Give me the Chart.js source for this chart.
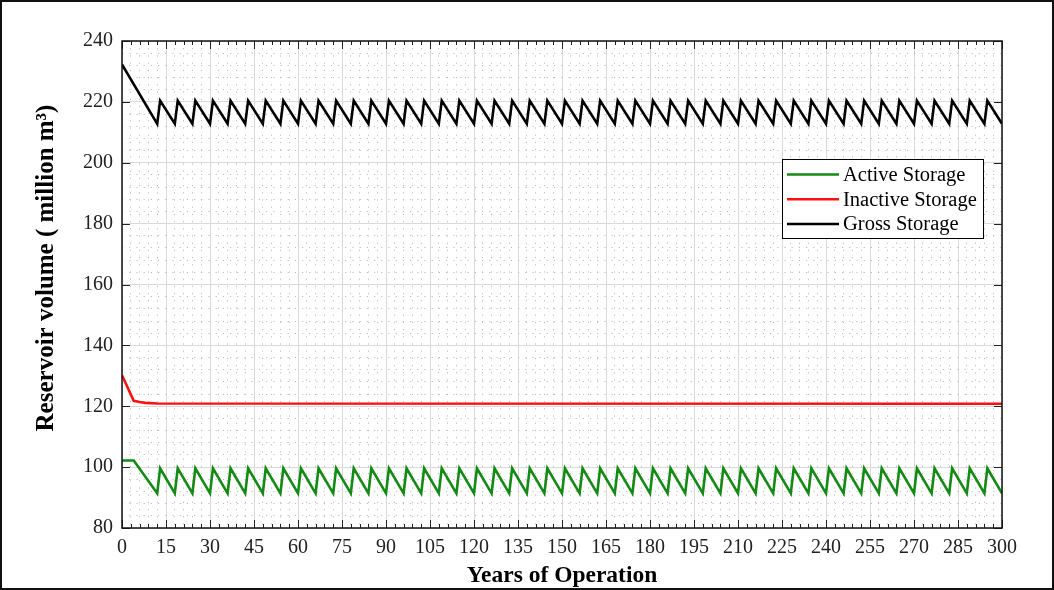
<!DOCTYPE html>
<html>
<head>
<meta charset="utf-8">
<title>Reservoir volume</title>
<script src="https://cdn.jsdelivr.net/npm/chart.js@4.4.0/dist/chart.umd.min.js"></script>
<style>
  html, body { margin: 0; padding: 0; background: #fff; }
  #chart { display: block; }
</style>
</head>
<body>
<canvas id="chart" width="1054" height="590"></canvas>
<script>
// Corners of the sawtooth (years), shared by active and gross storage
const toothYears = [
    12, 13, 18, 19, 24, 25, 30, 31, 36, 37, 42, 43,
    48, 49, 54, 55, 60, 61, 66, 67, 72, 73, 78, 79,
    84, 85, 90, 91, 96, 97, 102, 103, 108, 109, 114, 115,
    120, 121, 126, 127, 132, 133, 138, 139, 144, 145, 150, 151,
    156, 157, 162, 163, 168, 169, 174, 175, 180, 181, 186, 187,
    192, 193, 198, 199, 204, 205, 210, 211, 216, 217, 222, 223,
    228, 229, 234, 235, 240, 241, 246, 247, 252, 253, 258, 259,
    264, 265, 270, 271, 276, 277, 282, 283, 288, 289, 294, 295,
    300
];

const activeYears = [0, 4].concat(toothYears);
const activeValues = [
    102.2, 102.2,
    91.4, 99.6, 91.4, 99.6, 91.4, 99.6, 91.4, 99.6, 91.4, 99.6, 91.4, 99.6,
    91.4, 99.6, 91.4, 99.6, 91.4, 99.6, 91.4, 99.6, 91.4, 99.6, 91.4, 99.6,
    91.4, 99.6, 91.4, 99.6, 91.4, 99.6, 91.4, 99.6, 91.4, 99.6, 91.4, 99.6,
    91.4, 99.6, 91.4, 99.6, 91.4, 99.6, 91.4, 99.6, 91.4, 99.6, 91.4, 99.6,
    91.4, 99.6, 91.4, 99.6, 91.4, 99.6, 91.4, 99.6, 91.4, 99.6, 91.4, 99.6,
    91.4, 99.6, 91.4, 99.6, 91.4, 99.6, 91.4, 99.6, 91.4, 99.6, 91.4, 99.6,
    91.4, 99.6, 91.4, 99.6, 91.4, 99.6, 91.4, 99.6, 91.4, 99.6, 91.4, 99.6,
    91.4, 99.6, 91.4, 99.6, 91.4, 99.6, 91.4, 99.6, 91.4, 99.6, 91.4, 99.6,
    91.4
];

const inactiveYears = [0, 4, 6, 8, 12, 300];
const inactiveValues = [130.2, 121.8, 121.4, 121.1, 120.9, 120.8];

const grossYears = [0].concat(toothYears);
const grossValues = [
    232.3,
    212.8, 220.4, 212.8, 220.4, 212.8, 220.4, 212.8, 220.4, 212.8, 220.4, 212.8, 220.4,
    212.8, 220.4, 212.8, 220.4, 212.8, 220.4, 212.8, 220.4, 212.8, 220.4, 212.8, 220.4,
    212.8, 220.4, 212.8, 220.4, 212.8, 220.4, 212.8, 220.4, 212.8, 220.4, 212.8, 220.4,
    212.8, 220.4, 212.8, 220.4, 212.8, 220.4, 212.8, 220.4, 212.8, 220.4, 212.8, 220.4,
    212.8, 220.4, 212.8, 220.4, 212.8, 220.4, 212.8, 220.4, 212.8, 220.4, 212.8, 220.4,
    212.8, 220.4, 212.8, 220.4, 212.8, 220.4, 212.8, 220.4, 212.8, 220.4, 212.8, 220.4,
    212.8, 220.4, 212.8, 220.4, 212.8, 220.4, 212.8, 220.4, 212.8, 220.4, 212.8, 220.4,
    212.8, 220.4, 212.8, 220.4, 212.8, 220.4, 212.8, 220.4, 212.8, 220.4, 212.8, 220.4,
    212.8
];

const seriesNames = ['Active Storage', 'Inactive Storage', 'Gross Storage'];
const seriesColors = ['#138a13', '#ff1010', '#000000'];
const yTitle = 'Reservoir volume ( million m³)';

function toPoints(xs, ys) {
    return xs.map((x, i) => ({ x: x, y: ys[i] }));
}

const tickFont = { family: 'Liberation Serif', size: 20 };
const titleFont = { family: 'Liberation Serif', size: 23.5, weight: 'bold' };

// Inward tick marks, plot box, boxed legend, y title and outer figure frame
const framePlugin = {
    id: 'frame',
    beforeDraw(chart) {
        const ctx = chart.ctx;
        ctx.save();
        ctx.fillStyle = '#fff';
        ctx.fillRect(0, 0, chart.width, chart.height);
        ctx.restore();
    },
    afterDatasetsDraw(chart) {
        const ctx = chart.ctx;
        const { left, right, top, bottom } = chart.chartArea;
        const xs = chart.scales.x;
        const ys = chart.scales.y;
        ctx.save();
        ctx.strokeStyle = '#222';
        ctx.lineWidth = 1;
        ctx.beginPath();
        chart.scales.xMinor.ticks.forEach(t => {
            const px = Math.round(xs.getPixelForValue(t.value)) + 0.5;
            const len = t.value % 15 === 0 ? 8 : 4;
            ctx.moveTo(px, bottom); ctx.lineTo(px, bottom - len);
            ctx.moveTo(px, top); ctx.lineTo(px, top + len);
        });
        ys.ticks.forEach(t => {
            const py = Math.round(ys.getPixelForValue(t.value)) + 0.5;
            ctx.moveTo(left, py); ctx.lineTo(left + 8, py);
            ctx.moveTo(right, py); ctx.lineTo(right - 8, py);
        });
        ctx.stroke();

        ctx.lineWidth = 1.5;
        ctx.strokeStyle = '#111';
        ctx.strokeRect(left, top, right - left, bottom - top);

        // legend box
        const bx = right - 220, by = top + 118, bw = 201, bh = 79;
        ctx.fillStyle = '#fff';
        ctx.fillRect(bx, by, bw, bh);
        ctx.lineWidth = 1;
        ctx.strokeStyle = '#000';
        ctx.strokeRect(bx + 0.5, by + 0.5, bw, bh);
        ctx.font = '20.5px "Liberation Serif"';
        ctx.textBaseline = 'middle';
        ctx.textAlign = 'left';
        chart.data.datasets.forEach((ds, i) => {
            const cy = by + 15.5 + i * 24.8;
            ctx.strokeStyle = ds.borderColor;
            ctx.lineWidth = 2.5;
            ctx.beginPath();
            ctx.moveTo(bx + 5, cy);
            ctx.lineTo(bx + 57, cy);
            ctx.stroke();
            ctx.fillStyle = '#000';
            ctx.fillText(ds.label, bx + 61, cy + 1);
        });

        // y axis title, centred where the original figure puts it
        ctx.translate(47, 268);
        ctx.rotate(-Math.PI / 2);
        ctx.font = 'bold 25px "Liberation Serif"';
        ctx.textAlign = 'center';
        ctx.fillText(yTitle, 0, 0);
        ctx.restore();
    },
    afterDraw(chart) {
        const ctx = chart.ctx;
        ctx.save();
        ctx.strokeStyle = '#111';
        ctx.lineWidth = 2;
        ctx.strokeRect(1, 1, chart.width - 2, chart.height - 2);
        ctx.restore();
    }
};

const ctx = document.getElementById('chart').getContext('2d');
const chart = new Chart(ctx, {
    type: 'line',
    data: {
        datasets: [
            { label: seriesNames[0], data: toPoints(activeYears, activeValues), borderColor: seriesColors[0] },
            { label: seriesNames[1], data: toPoints(inactiveYears, inactiveValues), borderColor: seriesColors[1] },
            { label: seriesNames[2], data: toPoints(grossYears, grossValues), borderColor: seriesColors[2] }
        ]
    },
    options: {
        responsive: false,
        animation: false,
        devicePixelRatio: 1,
        layout: { padding: { left: 0, right: 52, top: 41, bottom: 0 } },
        elements: {
            point: { radius: 0, hoverRadius: 0 },
            line: { borderWidth: 2.6, tension: 0, fill: false }
        },
        plugins: {
            legend: { display: false },
            tooltip: { enabled: false }
        },
        scales: {
            x: {
                type: 'linear',
                min: 0,
                max: 300,
                ticks: { stepSize: 15, autoSkip: false, maxRotation: 0, padding: 8, color: '#222', font: tickFont },
                grid: { color: '#d9d9d9', lineWidth: 1, drawTicks: false },
                border: { display: false },
                title: { display: true, text: 'Years of Operation', color: '#000', font: titleFont, padding: { top: 0, bottom: 0 } },
                afterFit(scale) { scale.height = 62; }
            },
            xMinor: {
                type: 'linear',
                position: 'bottom',
                min: 0,
                max: 300,
                ticks: { stepSize: 3, display: false, autoSkip: false },
                grid: { color: c => c.tick.value % 15 === 0 ? 'rgba(0,0,0,0)' : '#bdbdbd', lineWidth: 1, drawTicks: false },
                border: { display: false, dash: [1.2, 6] },
                afterFit(scale) { scale.height = 0; }
            },
            y: {
                min: 80,
                max: 240,
                ticks: { stepSize: 20, padding: 9, color: '#222', font: tickFont },
                grid: { color: '#d9d9d9', lineWidth: 1, drawTicks: false },
                border: { display: false },
                afterFit(scale) { scale.width = 122; }
            },
            yMinor: {
                position: 'left',
                min: 80,
                max: 240,
                ticks: { stepSize: 4, display: false },
                grid: { color: c => c.tick.value % 20 === 0 ? 'rgba(0,0,0,0)' : '#bdbdbd', lineWidth: 1, drawTicks: false },
                border: { display: false, dash: [1.2, 6] },
                afterFit(scale) { scale.width = 0; }
            }
        }
    },
    plugins: [framePlugin]
});
</script>
</body>
</html>
